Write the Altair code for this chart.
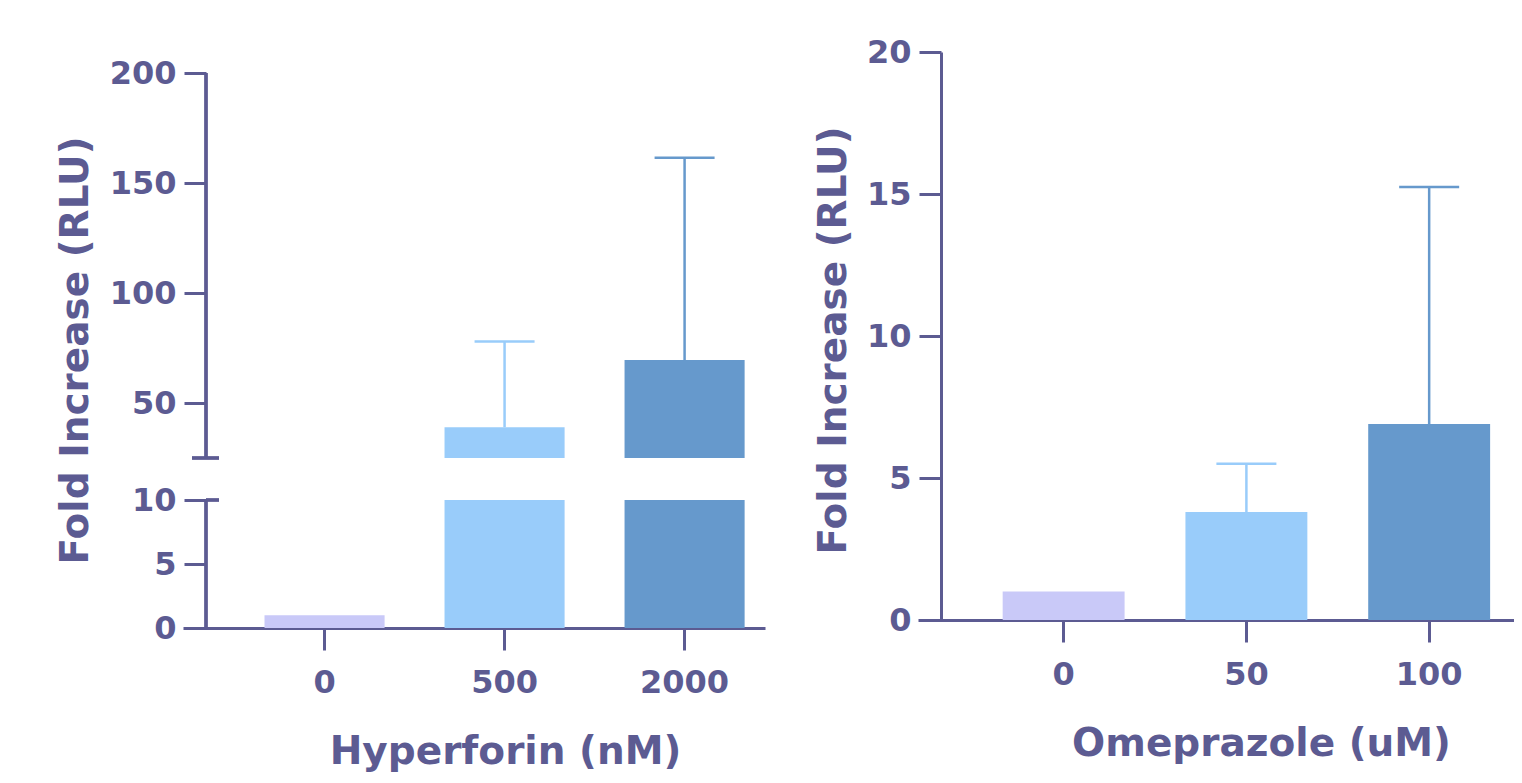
import altair as alt
import pandas as pd

# ---- data ----
hyper_doses = ["0", "500", "2000"]
hyper_mean = [1.0, 39.0, 69.5]
hyper_err = [0.0, 39.0, 92.0]

omep_doses = ["0", "50", "100"]
omep_mean = [1.0, 3.8, 6.9]
omep_err = [0.0, 1.7, 8.35]

# broken axis of the left panel: 0-10, gap, 25-200
break_lo = 10
break_hi = 25
hyper_top = 200
hyper_ticks = [0, 5, 10, 50, 100, 150, 200]
omep_ticks = [0, 5, 10, 15, 20]

bar_colors = ["#c9c9f8", "#99ccfa", "#6699cc"]
AX = "#5c5b92"
FONT = "DejaVu Sans"

hyper = pd.DataFrame({"dose": hyper_doses, "mean": hyper_mean, "err": hyper_err})
hyper["upper"] = hyper["mean"] + hyper["err"]
omep = pd.DataFrame({"dose": omep_doses, "mean": omep_mean, "err": omep_err})
omep["upper"] = omep["mean"] + omep["err"]


def xscale(domain, p_out, align):
    return alt.Scale(domain=domain, paddingInner=0.333, paddingOuter=p_out, align=align)


def color(domain):
    return alt.Color("dose:N", scale=alt.Scale(domain=domain, range=bar_colors), legend=None)


common = dict(labelFont=FONT, labelFontWeight="bold", labelFontSize=32, labelColor=AX,
              tickWidth=3, tickColor=AX, tickSize=22, domainColor=AX, domainWidth=3,
              titleFont=FONT, titleFontWeight="bold", titleFontSize=39, titleColor=AX,
              grid=False)


def xaxis(title, tx):
    return alt.Axis(title=title, labelAngle=0, labelPadding=17, titlePadding=34,
                    titleX=tx, **common)


def yaxis(values, tx, ty, domain=True):
    return alt.Axis(values=values, title="Fold Increase (RLU)", labelPadding=8,
                    offset=-23, titleX=tx, titleY=ty, titleBaseline="middle",
                    titleAngle=270, domain=domain, **common)


# ---------- left panel (single view, piecewise y scale with a gap 10..25) ----------
LH = 576
ly_scale = alt.Scale(domain=[0, break_lo, break_hi, hyper_top, 209.5],
                     range=[LH, LH - 128, LH - 170, 21, 0], nice=False, zero=False)
lx = alt.X("dose:N", sort=hyper_doses, scale=xscale(hyper_doses, 0.283, 0.8),
           axis=xaxis("Hyperforin (nM)", 322))

hbase = alt.Chart(hyper)
low_bars = hbase.transform_calculate(lo=f"min(datum.mean, {break_lo})").mark_bar().encode(
    x=lx,
    y=alt.Y("lo:Q", scale=ly_scale, axis=yaxis(hyper_ticks, -131, 298, domain=False)),
    y2=alt.datum(0),
    color=color(hyper_doses),
)
hbig = hbase.transform_filter(f"datum.mean > {break_hi}")
up_bars = hbig.mark_bar().encode(x=lx, y="mean:Q", y2=alt.datum(break_hi),
                                 color=color(hyper_doses))
hE = hbase.transform_filter("datum.err > 0")
h_err = hE.mark_rule(strokeWidth=2.5).encode(x=lx, y="mean:Q", y2="upper:Q",
                                             color=color(hyper_doses))
h_cap = hE.mark_tick(size=60, thickness=2.5, opacity=1).encode(x=lx, y="upper:Q",
                                                               color=color(hyper_doses))
# axis line in two pieces + break ticks
seg_lo = alt.Chart(hyper).mark_rule(color=AX, strokeWidth=3).encode(
    x=alt.value(23), y=alt.datum(0), y2=alt.datum(break_lo))
seg_hi = alt.Chart(hyper).mark_rule(color=AX, strokeWidth=3).encode(
    x=alt.value(23), y=alt.datum(break_hi), y2=alt.datum(hyper_top))
brk_hi = alt.Chart(hyper).mark_rule(color=AX, strokeWidth=3).encode(
    x=alt.value(9), x2=alt.value(36), y=alt.datum(break_hi))
brk_lo = alt.Chart(hyper).mark_rule(color=AX, strokeWidth=3).encode(
    x=alt.value(23), x2=alt.value(36), y=alt.datum(break_lo))

left = alt.layer(low_bars, up_bars, h_err, h_cap, seg_lo, seg_hi, brk_hi, brk_lo).properties(
    width=582, height=LH)

# ---------- right panel ----------
rx = alt.X("dose:N", sort=omep_doses, scale=xscale(omep_doses, 0.297, 0.78),
           axis=xaxis("Omeprazole (uM)", 343))
ry_scale = alt.Scale(domain=[0, 20], nice=False)
obase = alt.Chart(omep)
r_bars = obase.mark_bar().encode(
    x=rx,
    y=alt.Y("mean:Q", scale=ry_scale, axis=yaxis(omep_ticks, -108, 288)),
    color=color(omep_doses),
)
oE = obase.transform_filter("datum.err > 0")
r_err = oE.mark_rule(strokeWidth=2.5).encode(x=rx, y="mean:Q", y2="upper:Q",
                                             color=color(omep_doses))
r_cap = oE.mark_tick(size=60, thickness=2.5, opacity=1).encode(x=rx, y="upper:Q",
                                                               color=color(omep_doses))
right = alt.layer(r_bars, r_err, r_cap).properties(width=596, height=568)

chart = alt.hconcat(left, right, spacing=153, bounds="flush").resolve_scale(
    color="independent"
).properties(
    padding={"left": 48, "top": 28, "right": 0, "bottom": 5},
    background="white",
).configure_view(strokeWidth=0)

chart.save("out.html", embed_options={"renderer": "svg", "actions": False})
